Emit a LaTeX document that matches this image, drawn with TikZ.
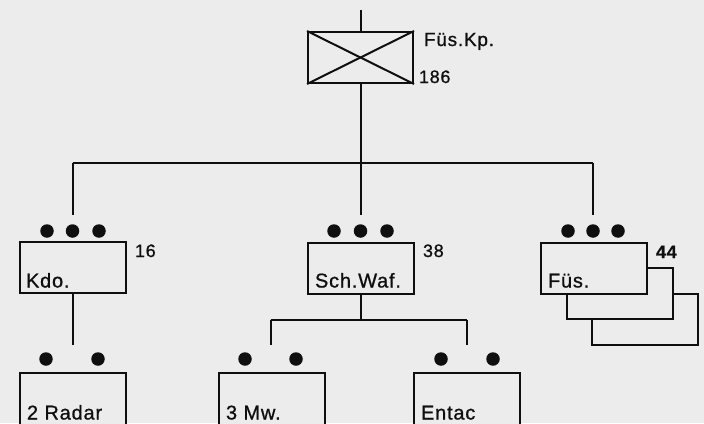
\documentclass[tikz,border=0pt]{standalone}
\usepackage{fontspec}
\setmainfont[LetterSpace=4,FakeBold=0.8]{Liberation Sans}
\definecolor{paper}{RGB}{236,236,236}
\definecolor{ink}{RGB}{15,15,15}
\begin{document}
\begin{tikzpicture}[x=1pt,y=-1pt,
  line width=2pt,
  color=ink,
  unit/.style={draw=ink,fill=paper,line width=2pt,rectangle,inner sep=0pt,minimum width=106pt,minimum height=51pt},
  lowunit/.style={unit,minimum height=64pt},
  dotn/.style={circle,fill=ink,draw=none,inner sep=0pt,minimum size=13.5pt},
  lbl/.style={inner sep=0pt,anchor=base west,font=\fontsize{20}{20}\selectfont,text=ink},
  toplbl/.style={lbl,font=\fontsize{19}{19}\selectfont},
  num/.style={inner sep=0pt,anchor=base west,font=\fontsize{18}{18}\selectfont,text=ink}]
\fill[paper] (0,0) rectangle (704,423);
\useasboundingbox (0,0) rectangle (704,423);
\clip (0,0) rectangle (704,423);

% top unit
\node[unit,minimum width=105pt] (top) at (360.5,57.5) {};
\draw (top.north west) -- (top.south east);
\draw (top.south west) -- (top.north east);
\coordinate (topin) at (360.5,10);
\draw (topin) -- (top.north);
\node[toplbl] (toplbl) at (423,46) {Füs.Kp.};
\node[num] (topnum) at (418,83) {186};

% bus
\coordinate (bus) at (360.5,163);
\coordinate (b1) at (72.5,163);
\coordinate (b3) at (593,163);
\draw (top.south) -- (bus);
\draw (b1) -- (b3);

% second row
\node[unit] (kdo) at (72.5,267.5) {};
\node[unit] (sch) at (360.5,268) {};
\node[unit] (fus3) at (645,319.5) {};
\node[unit] (fus2) at (620,293.5) {};
\node[unit] (fus) at (594,268) {};

\coordinate (kdoin) at (72.5,215);
\coordinate (schin) at (360.5,215);
\coordinate (fusin) at (593,215);
\draw (b1) -- (kdoin);
\draw (bus) -- (schin);
\draw (b3) -- (fusin);

\foreach \n/\x in {k1/47,k2/72.5,k3/99,s1/334,s2/360.5,s3/387,f1/568,f2/593,f3/618}
  \node[dotn] (\n) at (\x,231) {};

\node[lbl] (kdolbl) at (25,287.5) {Kdo.};
\node[lbl] (schlbl) at (314,287.5) {Sch.Waf.};
\node[lbl] (fuslbl) at (547,287.5) {Füs.};
\node[num] (kdonum) at (134,257) {16};
\node[num] (schnum) at (422,257) {38};
\node[num] (fusnum) at (655,258) {\textbf{44}};

% third row
\coordinate (kbot) at (72.5,345);
\draw (kdo.south) -- (kbot);
\coordinate (sbus) at (360.5,320);
\coordinate (sb1) at (270.5,320);
\coordinate (sb2) at (467,320);
\draw (sch.south) -- (sbus);
\draw (sb1) -- (sb2);
\coordinate (mwin) at (270.5,345);
\coordinate (enin) at (467,345);
\draw (sb1) -- (mwin);
\draw (sb2) -- (enin);

\node[lowunit] (radar) at (72.5,405) {};
\node[lowunit] (mw) at (271.5,405) {};
\node[lowunit] (entac) at (466.5,405) {};

\foreach \n/\x in {r1/46,r2/98,m1/245,m2/296,e1/441,e2/493}
  \node[dotn] (\n) at (\x,359) {};

\node[lbl] (radarlbl) at (26,419.5) {2 Radar};
\node[lbl] (mwlbl) at (225,419.5) {3 Mw.};
\node[lbl] (entaclbl) at (420,419.5) {Entac};
\end{tikzpicture}
\end{document}
